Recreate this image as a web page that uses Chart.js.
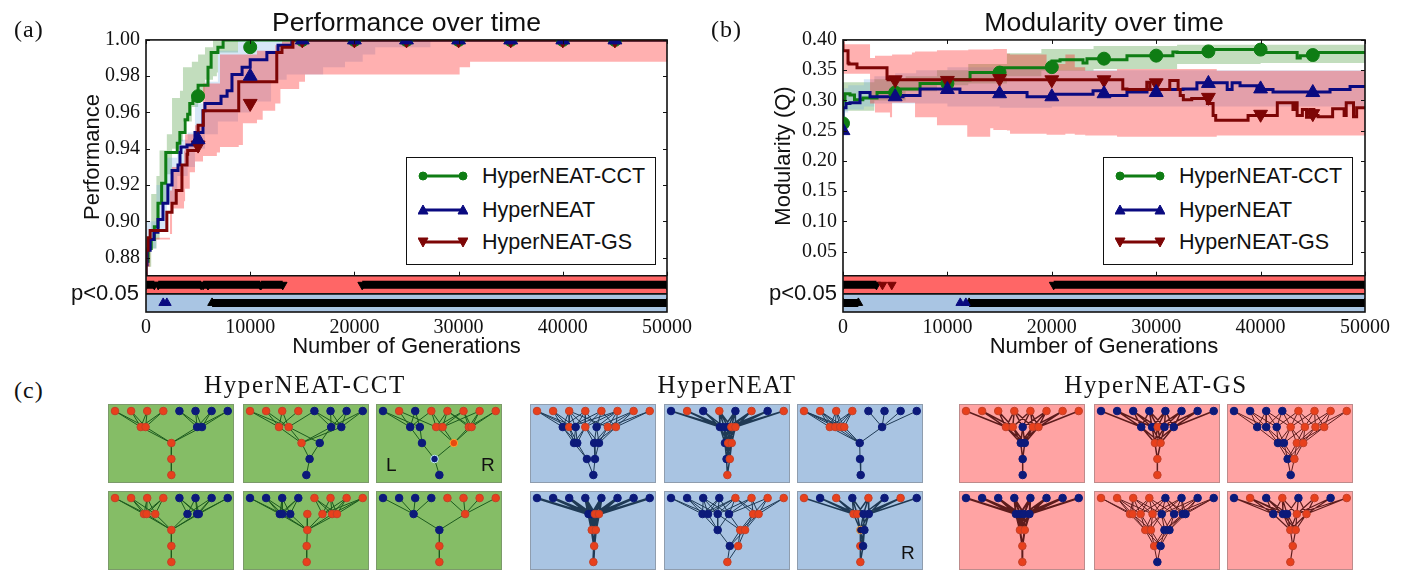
<!DOCTYPE html>
<html>
<head>
<meta charset="utf-8">
<title>HyperNEAT performance and modularity</title>
<script src="https://cdn.jsdelivr.net/npm/chart.js@4"></script>
<style>
  html, body { margin: 0; background: #fff; width: 1408px; height: 581px; overflow: hidden; }
  canvas { position: absolute; }
  .lbl { position: absolute; white-space: nowrap; color: #111; }
  .serif { font-family: "Liberation Serif", serif; }
  .sans { font-family: "Liberation Sans", sans-serif; }
  .legend { position: absolute; box-sizing: border-box; width: 250px; height: 108px; background: #fff; border: 1.5px solid #111; }
  .legend svg { position: absolute; left: 11px; }
  .legend span { position: absolute; left: 75px; font: 21.5px "Liberation Sans", sans-serif; color: #111; white-space: nowrap; }
</style>
</head>
<body>
<script>
// ── PANEL (a) DATA ─────────────────────────────
const xTicks = [0, 10000, 20000, 30000, 40000, 50000];
const markerGens = [5000, 10000, 15000, 20000, 25000, 30000, 35000, 40000, 45000];

const perfTicks = [0.88, 0.90, 0.92, 0.94, 0.96, 0.98, 1.00];

const perfCctGens = [0, 200, 500, 800, 1150, 1500, 1900, 2500, 3000, 3250, 3750, 4000, 4200, 4500, 5000, 5950, 6250, 6900, 7400, 11150, 50000];
const perfCct = [0.870, 0.878, 0.885, 0.890, 0.897, 0.910, 0.921, 0.938, 0.938, 0.943, 0.949, 0.956, 0.959, 0.965, 0.969, 0.975, 0.985, 0.993, 0.996, 1, 1];
const perfCctMarks = [0.969, 0.996, 1, 1, 1, 1, 1, 1, 1];

const perfHnGens = [0, 100, 400, 770, 1150, 1630, 2100, 2500, 3070, 3260, 3360, 3940, 4700, 5470, 5660, 7200, 7780, 8250, 9220, 10000, 11600, 12670, 14000, 14700, 50000];
const perfHn = [0.870, 0.876, 0.884, 0.890, 0.894, 0.901, 0.910, 0.920, 0.928, 0.931, 0.938, 0.941, 0.942, 0.949, 0.961, 0.965, 0.969, 0.972, 0.981, 0.985, 0.989, 0.993, 0.997, 1, 1];
const perfHnMarks = [0.945, 0.980, 1, 1, 1, 1, 1, 1, 1];

const perfGsGens = [0, 200, 400, 2000, 2500, 2900, 3450, 3940, 4000, 5000, 5500, 8900, 10250, 12550, 13050, 14100, 14500, 50000];
const perfGs = [0.870, 0.884, 0.891, 0.895, 0.905, 0.910, 0.917, 0.931, 0.937, 0.939, 0.953, 0.961, 0.977, 0.977, 0.993, 0.996, 1, 1];
const perfGsMarks = [0.942, 0.965, 1, 1, 1, 1, 1, 1, 1];

const perfCctBandGens = [0, 500, 1000, 1300, 2000, 2500, 3260, 3550, 4400, 5000, 5470, 5660, 6430, 6800, 6900, 8830, 11200, 50000];
const perfCctHigh = [0.87, 0.89, 0.915, 0.925, 0.939, 0.948, 0.968, 0.972, 0.985, 0.988, 0.992, 0.992, 0.996, 1, 1, 1, 1, 1];
const perfCctLow = [0.87, 0.875, 0.885, 0.89, 0.91, 0.926, 0.94, 0.944, 0.955, 0.963, 0.966, 0.969, 0.978, 0.98, 0.982, 0.993, 1, 1];

const perfHnBandGens = [0, 1000, 2000, 3000, 4000, 4700, 5660, 6900, 8830, 10000, 12000, 13500, 17000, 19100, 20800, 22000, 27300, 29400, 50000];
const perfHnHigh = [0.87, 0.90, 0.92, 0.935, 0.945, 0.949, 0.965, 0.977, 0.994, 1, 1, 1, 1, 1, 1, 1, 1, 1, 1];
const perfHnLow = [0.87, 0.885, 0.895, 0.91, 0.925, 0.93, 0.94, 0.948, 0.955, 0.96, 0.966, 0.978, 0.981, 0.985, 0.988, 0.992, 0.996, 1, 1];

const perfGsBandGens = [0, 400, 2300, 2500, 3650, 3750, 4200, 4700, 5470, 6800, 7100, 8900, 9300, 10650, 11200, 12400, 12900, 13050, 14700, 15260, 30100, 31100, 45300, 50000];
const perfGsHigh = [0.87, 0.891, 0.891, 0.917, 0.93, 0.939, 0.948, 0.948, 0.953, 0.976, 0.976, 0.992, 0.992, 0.992, 0.994, 0.994, 0.997, 0.997, 1, 1, 1, 1, 1, 1];
const perfGsLow = [0.87, 0.875, 0.89, 0.893, 0.907, 0.911, 0.918, 0.927, 0.933, 0.936, 0.938, 0.941, 0.942, 0.954, 0.956, 0.961, 0.965, 0.973, 0.973, 0.977, 0.981, 0.985, 0.988, 0.988];

const perfSigGs = [[0, 800], [1170, 5290], [5480, 5950], [5950, 10960], [11040, 13120], [20750, 50000]];
const perfSigHn = [[6340, 50000]];
const perfSigHnSingles = [1650, 2000];

// ── PANEL (b) DATA ─────────────────────────────
const modTicks = [0.05, 0.10, 0.15, 0.20, 0.25, 0.30, 0.35, 0.40];

const modCctGens = [0, 190, 670, 1100, 1900, 3260, 4980, 7380, 9960, 12170, 15040, 16670, 20020, 20790, 22990, 23370, 24900, 27200, 29410, 31600, 32000, 34970, 36100, 39950, 40700, 43500, 43800, 44900, 46650, 50000];
const modCct = [0.262, 0.300, 0.311, 0.309, 0.301, 0.304, 0.313, 0.319, 0.328, 0.334, 0.346, 0.354, 0.354, 0.365, 0.367, 0.362, 0.369, 0.367, 0.374, 0.374, 0.380, 0.379, 0.384, 0.384, 0.379, 0.379, 0.370, 0.374, 0.379, 0.379];
const modMarkerGens = [0, 5000, 10000, 15000, 20000, 25000, 30000, 35000, 40000, 45000];
const modCctMarks = [0.262, 0.313, 0.328, 0.346, 0.355, 0.369, 0.374, 0.381, 0.384, 0.375];

const modHnGens = [0, 290, 670, 1630, 2590, 5750, 7380, 8330, 11200, 11880, 17630, 20020, 23950, 25100, 27200, 29120, 32570, 33900, 35450, 36800, 37270, 38030, 39660, 41190, 46650, 48570, 49900, 50000];
const modHn = [0.250, 0.288, 0.295, 0.296, 0.313, 0.306, 0.308, 0.319, 0.319, 0.313, 0.313, 0.306, 0.310, 0.316, 0.308, 0.314, 0.318, 0.319, 0.329, 0.329, 0.318, 0.329, 0.324, 0.318, 0.314, 0.318, 0.323, 0.323];
const modHnMarks = [0.250, 0.306, 0.318, 0.311, 0.306, 0.311, 0.313, 0.328, 0.319, 0.313];

const modGsGens = [0, 480, 575, 1340, 1440, 4215, 4310, 7090, 26800, 27200, 29100, 29400, 29900, 31300, 31600, 32100, 32300, 32600, 33400, 34900, 35450, 35700, 36600, 38800, 39200, 41600, 41700, 43100, 43300, 43500, 44000, 44400, 44700, 45100, 45500, 46900, 47300, 48000, 48200, 48900, 49200, 49500, 50000];
const modGs = [0.398, 0.382, 0.362, 0.360, 0.354, 0.354, 0.336, 0.334, 0.334, 0.319, 0.318, 0.330, 0.318, 0.318, 0.333, 0.333, 0.318, 0.308, 0.301, 0.303, 0.295, 0.275, 0.267, 0.267, 0.275, 0.275, 0.296, 0.296, 0.285, 0.296, 0.275, 0.285, 0.272, 0.285, 0.275, 0.273, 0.286, 0.286, 0.275, 0.296, 0.273, 0.288, 0.288];
const modGsMarks = [0.398, 0.334, 0.333, 0.336, 0.334, 0.334, 0.329, 0.305, 0.277, 0.278];

const modCctBandGens = [0, 3000, 6000, 9000, 12000, 15700, 19000, 21000, 24000, 32000, 40000, 50000];
const modCctHigh = [0.33, 0.33, 0.335, 0.34, 0.35, 0.36, 0.378, 0.385, 0.385, 0.39, 0.392, 0.392];
const modCctLow = [0.283, 0.283, 0.30, 0.315, 0.325, 0.328, 0.34, 0.349, 0.349, 0.352, 0.36, 0.362];

const modHnBandGens = [0, 500, 2000, 3000, 5000, 7000, 10000, 15000, 20000, 30000, 40000, 50000];
const modHnHigh = [0.27, 0.32, 0.325, 0.335, 0.34, 0.345, 0.35, 0.355, 0.352, 0.35, 0.35, 0.35];
const modHnLow = [0.25, 0.28, 0.285, 0.29, 0.295, 0.295, 0.295, 0.29, 0.288, 0.29, 0.29, 0.29];

const modGsBandGens = [0, 2590, 3065, 4500, 4700, 6600, 6900, 9000, 11900, 12000, 14100, 14400, 15700, 16000, 19500, 21300, 22200, 23200, 26250, 35800, 50000];
const modGsHigh = [0.398, 0.393, 0.37, 0.374, 0.374, 0.376, 0.379, 0.381, 0.383, 0.383, 0.384, 0.384, 0.385, 0.377, 0.376, 0.36, 0.376, 0.355, 0.349, 0.352, 0.349];
const modGsLow = [0.36, 0.344, 0.295, 0.28, 0.272, 0.296, 0.296, 0.272, 0.259, 0.24, 0.24, 0.254, 0.251, 0.25, 0.245, 0.243, 0.245, 0.243, 0.242, 0.24, 0.242];

const modSigGs = [[0, 3200], [20180, 50000]];
const modSigGsSingles = [3780, 4670];
const modSigHn = [[0, 1470], [12080, 50000]];
const modSigHnSingles = [11230, 11770];

const seriesNames = ['HyperNEAT-CCT', 'HyperNEAT', 'HyperNEAT-GS'];

// ── PANEL (c) DATA ─────────────────────────────
// each network: input colours, then a layer of [x, colour, parents in the layer above]
const cctA1 = ['rrrrbbbb', [[1.6, 'r', '0123'], [1.9, 'r', '0123'], [5.1, 'b', '4567'], [5.4, 'b', '4567']], [[3.5, 'r', '0123']], [[3.5, 'r', '0']], [[3.5, 'r', '0']]];
const cctA2 = ['rrrrbbbb', [[1.8, 'r', '0123'], [2.4, 'r', '0124'], [5.04, 'b', '4567'], [5.67, 'b', '4567']], [[3.2, 'r', '0123'], [4.33, 'b', '12']], [[3.7, 'b', '01']], [[3.5, 'b', '0']]];
const cctA3 = ['brbrrrrr', [[1.69, 'b', '0123'], [2.29, 'b', '02'], [3.3, 'r', '1345'], [3.7, 'r', '3456'], [5.33, 'r', '4567'], [5.5, 'r', '4567']], [[2.42, 'b', '01'], [4.4, 'o', '2345']], [[3.2, 'c', '01']], [[3.5, 'b', '0']]];
const cctB1 = ['rrrrbbbb', [[1.8, 'r', '0123'], [1.96, 'r', '0123'], [2.5, 'r', '123'], [4.5, 'b', '456'], [5.1, 'b', '4567'], [5.2, 'b', '4567']], [[3.5, 'r', '012345']], [[3.5, 'r', '0']], [[3.5, 'r', '0']]];
const cctB2 = ['bbbbrrrr', [[1.85, 'b', '0123'], [2, 'b', '0123'], [2.5, 'b', '123'], [3.56, 'r', ''], [4.5, 'r', '4567'], [5.1, 'r', '4567'], [5.4, 'r', '4567']], [[3.56, 'r', '0123456']], [[3.52, 'r', '0']], [[3.52, 'r', '0']]];
const cctB3 = ['bbbbrrrr', [[1.9, 'b', '0123'], [5.1, 'r', '4567']], [[3.5, 'b', '01']], [[3.5, 'r', '0']], [[3.5, 'r', '0']]];

const hnA1 = ['rrrrrrrr', [[1.6, 'b', '0123'], [2, 'r', '01245'], [2.4, 'b', '0123'], [3, 'r', '2345'], [3.7, 'b', '3456'], [4.4, 'r', '2567'], [4.9, 'r', '4567']], [[2.3, 'b', '0123'], [2.5, 'b', '0123'], [3.55, 'b', '3456'], [3.85, 'b', '3456']], [[3.1, 'b', '01'], [3.6, 'b', '23']], [[3.5, 'b', '01']]];
const hnA2 = ['brbrbrbr', [[3.04, 'b', '0123'], [3.3, 'b', '01234'], [3.55, 'b', '3456'], [3.75, 'r', '34567'], [4, 'r', '4567']], [[3.35, 'b', '012'], [3.55, 'r', '01234'], [3.77, 'r', '234']], [[3.45, 'b', '012'], [3.65, 'r', '012']], [[3.5, 'r', '01']]];
const hnA3 = ['rrrrbbbb', [[1.6, 'r', '0123'], [1.94, 'r', '0123'], [2.25, 'r', '0123'], [2.5, 'r', '0123'], [4.85, 'b', '4567']], [[3.46, 'b', '01234']], [[3.48, 'b', '0']], [[3.52, 'b', '0']]];
const hnB1 = ['bbbbbbbb', [[3.2, 'b', '0123'], [3.4, 'b', '1234'], [3.6, 'r', '3456'], [3.85, 'r', '4567']], [[3.4, 'r', '0123'], [3.65, 'r', '0123']], [[3.55, 'r', '01']], [[3.5, 'r', '0']]];
const hnB2 = ['bbbbrrrr', [[1.96, 'b', '01234'], [2.3, 'b', '01234'], [2.9, 'b', '12345'], [3.6, 'b', '23456'], [5.1, 'r', '4567'], [5.44, 'r', '4567']], [[2.9, 'b', '0123'], [4.3, 'r', '2345'], [4.6, 'r', '45']], [[3.65, 'b', '012'], [4.17, 'r', '12']], [[3.5, 'r', '01']]];
const hnB3 = ['rbrbrbrb', [[3.08, 'r', '0123'], [3.3, 'r', '1234'], [3.7, 'b', '3456'], [4.02, 'b', '4567']], [[3.5, 'g', '0123'], [3.75, 'b', '23']], [[3.5, 'r', '01'], [3.67, 'b', '01']], [[3.5, 'r', '01']]];

const gsA1 = ['rrrrrrrr', [[2.48, 'r', '0123'], [2.9, 'r', '1234'], [3.52, 'b', '345'], [4.15, 'r', '3456'], [4.5, 'r', '4567']], [[3.4, 'b', '01234'], [3.65, 'b', '01234']], [[3.52, 'b', '01']], [[3.52, 'b', '0']]];
const gsA2 = ['bbbbbbbb', [[2.5, 'b', '0123'], [3.17, 'b', '1234'], [3.52, 'r', '2345'], [3.94, 'b', '3456'], [4.52, 'b', '4567']], [[3.35, 'r', '01234'], [3.7, 'r', '01234']], [[3.5, 'r', '01']], [[3.5, 'r', '0']]];
const gsA3 = ['bbbbrrrr', [[1.44, 'b', '012'], [2, 'b', '0123'], [2.65, 'b', '1234'], [3.52, 'r', '2345'], [4.4, 'r', '3456'], [5.06, 'r', '4567'], [5.6, 'r', '567']], [[2.73, 'b', '0123'], [3.1, 'b', '1234'], [3.9, 'r', '3456'], [4.3, 'r', '3456']], [[3.33, 'b', '0123'], [3.75, 'r', '0123']], [[3.52, 'b', '01']]];
const gsB1 = ['bbbbbbbb', [[3.1, 'b', '0123'], [3.35, 'b', '1234'], [3.6, 'b', '3456'], [3.94, 'b', '4567']], [[3.35, 'r', '0123'], [3.65, 'r', '0123']], [[3.5, 'r', '01']], [[3.5, 'r', '0']]];
const gsB2 = ['rrrrbbbb', [[1.8, 'r', '012'], [1.96, 'r', '0123'], [2.46, 'r', '1234'], [3.2, 'r', '12345'], [3.77, 'b', '23456'], [4.54, 'b', '34567'], [5.08, 'b', '4567'], [5.25, 'b', '4567']], [[2.75, 'r', '01234'], [3.1, 'r', '1234'], [3.94, 'b', '34567'], [4.25, 'b', '4567']], [[3.3, 'r', '0123'], [3.7, 'b', '0123']], [[3.5, 'b', '01']]];
const gsB3 = ['brbrbrbr', [[2.44, 'b', '0123'], [3.04, 'b', '0123'], [3.3, 'b', '1234'], [3.9, 'r', '34567'], [4.5, 'r', '4567']], [[3.5, 'r', '01234'], [3.83, 'r', '1234']], [[3.65, 'r', '01']], [[3.5, 'r', '0']]];

// ── STYLES ─────────────────────────────────────
const GREEN = '#0f7d14', NAVY = '#0a0a80', MAROON = '#7d0505';
const GREEN_BAND = 'rgba(30,130,10,0.27)', BLUE_BAND = 'rgba(110,170,225,0.28)', RED_BAND = 'rgba(255,0,0,0.31)';
const STRIP_RED = '#ff6666', STRIP_BLUE = '#a9c5e3';
const SERIF = 'Liberation Serif', SANS = 'Liberation Sans';

function pts(xs, ys) { return xs.map((x, i) => ({ x, y: ys[i] })); }

function stepLine(xs, ys, color) {
  return { data: pts(xs, ys), showLine: true, stepped: 'after', borderColor: color, borderWidth: 3, pointRadius: 0, fill: false, clip: 0 };
}

function markers(xs, ys, color, style, rot) {
  return { data: pts(xs, ys), showLine: false, pointStyle: style, rotation: rot || 0, pointRadius: style === 'circle' ? 6.5 : 8,
    backgroundColor: color, borderColor: color, pointBackgroundColor: color, pointBorderColor: color, borderWidth: 1, clip: 0 };
}

// datasets go in paint order and get reversed at the end, so '-1' points at the next entry
function band(xs, high, low, color) {
  return [
    { data: pts(xs, high), showLine: true, stepped: 'after', borderWidth: 0, pointRadius: 0, fill: '-1', backgroundColor: color, clip: 0 },
    { data: pts(xs, low), showLine: true, stepped: 'after', borderWidth: 0, pointRadius: 0, fill: false, clip: 0 }
  ];
}

function strip(top, bottom, color) {
  return { data: [{ x: 0, y: top }, { x: 50000, y: top }], showLine: true, borderWidth: 0, pointRadius: 0, fill: { value: bottom }, backgroundColor: color, clip: 0 };
}

function sigBar(ranges, y) {
  const data = [];
  ranges.forEach(r => { data.push({ x: r[0], y }, { x: r[1], y }, { x: r[1], y: null }); });
  return { data, showLine: true, borderColor: '#000', borderWidth: 8, borderCapStyle: 'butt', pointRadius: 0, fill: false, clip: 0 };
}

function sigEnds(ranges, y, style, rot) {
  const xs = [];
  ranges.forEach(r => xs.push(r[0], r[1]));
  const set = markers(xs, xs.map(() => y), '#000', style, rot);
  set.pointRadius = 5;
  return set;
}

const framePlugin = {
  id: 'frame',
  afterDatasetsDraw(chart, args, opts) {
    const { ctx, chartArea: a, scales: { x, y } } = chart;
    const split = y.getPixelForValue(opts.split), mid = y.getPixelForValue(opts.mid);
    ctx.save();
    ctx.strokeStyle = '#111';
    ctx.lineWidth = 1;
    opts.yTicks.forEach(v => {
      const py = Math.round(y.getPixelForValue(v)) + 0.5;
      ctx.beginPath();
      ctx.moveTo(a.left, py); ctx.lineTo(a.left + 4, py);
      ctx.moveTo(a.right, py); ctx.lineTo(a.right - 4, py);
      ctx.stroke();
    });
    xTicks.forEach(v => {
      const px = Math.round(x.getPixelForValue(v)) + 0.5;
      ctx.beginPath();
      ctx.moveTo(px, a.top); ctx.lineTo(px, a.top + 4);
      ctx.moveTo(px, split); ctx.lineTo(px, split - 4);
      ctx.stroke();
    });
    ctx.lineWidth = 1.6;
    ctx.strokeRect(a.left, a.top, a.right - a.left, a.bottom - a.top);
    ctx.beginPath();
    ctx.moveTo(a.left, split); ctx.lineTo(a.right, split);
    ctx.moveTo(a.left, mid); ctx.lineTo(a.right, mid);
    ctx.stroke();
    ctx.restore();
  }
};

function makeCanvas(left, top, w, h) {
  const c = document.createElement('canvas');
  c.width = w; c.height = h;
  c.style.left = left + 'px';
  c.style.top = top + 'px';
  c.style.width = w + 'px';
  c.style.height = h + 'px';
  document.body.appendChild(c);
  return c;
}

function addLabel(text, cls, css) {
  const d = document.createElement('div');
  d.className = 'lbl ' + cls;
  d.textContent = text;
  Object.assign(d.style, css);
  document.body.appendChild(d);
}

// ── LINE PANELS ────────────────────────────────
function renderPanel(cfg) {
  const canvas = makeCanvas(cfg.left, 0, 704, 365);
  new Chart(canvas, {
    type: 'scatter',
    data: { datasets: cfg.datasets.slice().reverse() },
    plugins: [framePlugin],
    options: {
      responsive: false,
      animation: false,
      layout: { autoPadding: false, padding: { right: cfg.padRight } },
      plugins: {
        legend: { display: false },
        tooltip: { enabled: false },
        title: {
          display: true, text: cfg.title, color: '#111', fullSize: false,
          font: { family: SANS, size: 26.6, weight: 'normal' }, padding: { top: 8, bottom: 0 }
        },
        frame: { split: cfg.split, mid: cfg.mid, yTicks: cfg.yTicks }
      },
      scales: {
        x: {
          type: 'linear', min: 0, max: 50000,
          afterFit: s => { s.height = 53; },
          afterBuildTicks: s => { s.ticks = xTicks.map(v => ({ value: v })); },
          grid: { display: false, drawTicks: false },
          border: { display: false },
          ticks: { color: '#111', padding: 4, maxRotation: 0, autoSkip: false, font: { family: SERIF, size: 20 }, callback: v => String(v) },
          title: { display: true, text: 'Number of Generations', color: '#111', font: { family: SANS, size: 22 }, padding: { top: 0, bottom: 5 } }
        },
        y: {
          type: 'linear', min: cfg.yMin, max: cfg.yMax,
          afterFit: s => { s.width = cfg.axisWidth; },
          afterBuildTicks: s => { s.ticks = cfg.yTicks.map(v => ({ value: v })); },
          grid: { display: false, drawTicks: false },
          border: { display: false },
          ticks: { color: '#111', padding: 6, autoSkip: false, font: { family: SERIF, size: 20 }, callback: v => v.toFixed(2) }
        }
      }
    }
  });
}

function renderLegend(left, top) {
  const box = document.createElement('div');
  box.className = 'legend';
  box.style.left = left + 'px';
  box.style.top = top + 'px';
  const colors = [GREEN, NAVY, MAROON];
  const glyphs = [
    x => `<circle cx="${x}" cy="8" r="4"/>`,
    x => `<path d="M${x} 3 L${x + 5} 12 L${x - 5} 12 Z"/>`,
    x => `<path d="M${x} 13 L${x + 5} 4 L${x - 5} 4 Z"/>`
  ];
  const rowTops = [10, 44, 76];
  seriesNames.forEach((name, i) => {
    const svg = `<svg width="50" height="16" style="top:${rowTops[i]}px" fill="${colors[i]}" stroke="${colors[i]}">` +
      `<line x1="5" y1="8" x2="45" y2="8" stroke-width="3"/>${glyphs[i](5)}${glyphs[i](45)}</svg>`;
    box.insertAdjacentHTML('beforeend', svg + `<span style="top:${rowTops[i] - 4}px">${name}</span>`);
  });
  document.body.appendChild(box);
}

renderPanel({
  left: 0, title: 'Performance over time', yMin: 0.85, yMax: 1, yTicks: perfTicks, split: 0.87, mid: 0.86, axisWidth: 146, padRight: 37,
  datasets: [
    strip(0.87, 0.86, STRIP_RED),
    strip(0.86, 0.85, STRIP_BLUE),
    ...band(perfCctBandGens, perfCctHigh, perfCctLow, GREEN_BAND),
    ...band(perfHnBandGens, perfHnHigh, perfHnLow, BLUE_BAND),
    ...band(perfGsBandGens, perfGsHigh, perfGsLow, RED_BAND),
    sigBar(perfSigGs, 0.865),
    sigEnds(perfSigGs, 0.865, 'triangle', 180),
    sigBar(perfSigHn, 0.855),
    sigEnds(perfSigHn, 0.855, 'triangle', 0),
    Object.assign(markers(perfSigHnSingles, perfSigHnSingles.map(() => 0.855), NAVY, 'triangle', 0), { pointRadius: 5 }),
    stepLine(perfCctGens, perfCct, GREEN),
    stepLine(perfHnGens, perfHn, NAVY),
    stepLine(perfGsGens, perfGs, MAROON),
    markers(markerGens, perfCctMarks, GREEN, 'circle'),
    markers(markerGens, perfGsMarks, MAROON, 'triangle', 180),
    markers(markerGens, perfHnMarks, NAVY, 'triangle', 0)
  ]
});

renderPanel({
  left: 704, title: 'Modularity over time', yMin: -0.05, yMax: 0.4, yTicks: modTicks, split: 0.01, mid: -0.02, axisWidth: 139, padRight: 43,
  datasets: [
    strip(0.01, -0.02, STRIP_RED),
    strip(-0.02, -0.05, STRIP_BLUE),
    ...band(modCctBandGens, modCctHigh, modCctLow, GREEN_BAND),
    ...band(modHnBandGens, modHnHigh, modHnLow, BLUE_BAND),
    ...band(modGsBandGens, modGsHigh, modGsLow, RED_BAND),
    sigBar(modSigGs, -0.005),
    sigEnds(modSigGs, -0.005, 'triangle', 180),
    Object.assign(markers(modSigGsSingles, modSigGsSingles.map(() => -0.005), MAROON, 'triangle', 180), { pointRadius: 5 }),
    sigBar(modSigHn, -0.035),
    sigEnds(modSigHn, -0.035, 'triangle', 0),
    Object.assign(markers(modSigHnSingles, modSigHnSingles.map(() => -0.035), NAVY, 'triangle', 0), { pointRadius: 5 }),
    stepLine(modCctGens, modCct, GREEN),
    stepLine(modHnGens, modHn, NAVY),
    stepLine(modGsGens, modGs, MAROON),
    markers(modMarkerGens, modCctMarks, GREEN, 'circle'),
    markers(modMarkerGens.slice(1), modGsMarks.slice(1), MAROON, 'triangle', 180),
    markers(modMarkerGens, modHnMarks, NAVY, 'triangle', 0)
  ]
});

renderLegend(406, 157);
renderLegend(1103, 157);

addLabel('Performance', 'sans', { left: '92px', top: '157px', fontSize: '22px', transform: 'translate(-50%,-50%) rotate(-90deg)' });
addLabel('Modularity (Q)', 'sans', { left: '783px', top: '156px', fontSize: '22px', transform: 'translate(-50%,-50%) rotate(-90deg)' });
addLabel('p<0.05', 'sans', { left: '71px', top: '280px', fontSize: '22px' });
addLabel('p<0.05', 'sans', { left: '769px', top: '280px', fontSize: '22px' });
addLabel('(a)', 'serif', { left: '14px', top: '16px', fontSize: '24px', letterSpacing: '1px' });
addLabel('(b)', 'serif', { left: '711px', top: '16px', fontSize: '24px', letterSpacing: '1px' });
addLabel('(c)', 'serif', { left: '14px', top: '377px', fontSize: '24px', letterSpacing: '1px' });

// ── NETWORK PANELS ─────────────────────────────
const NODE_FILL = { r: '#e8401c', b: '#0c1a7a', o: '#e84a10', c: '#0c1a7a', g: '#14145a' };
const NODE_EDGE = { r: '#c44028', b: '#0c1a7a', o: '#ffa030', c: '#bfeef5', g: '#f0a040' };

function renderNetwork(net, left, top, bg, edgeColor, width) {
  const canvas = makeCanvas(left, top, 126, 79);
  canvas.style.background = bg;
  canvas.style.outline = '1px solid rgba(110,110,110,0.45)';
  canvas.style.outlineOffset = '-1px';

  const layers = [net[0].split('').map((c, i) => [i, c, ''])].concat(net.slice(1));
  const edges = [], nodes = [], fills = [], strokes = [];
  layers.forEach((layer, depth) => {
    layer.forEach(n => {
      n[2].split('').forEach(p => {
        const parent = layers[depth - 1][+p];
        edges.push({ x: parent[0], y: depth - 1 }, { x: n[0], y: depth }, { x: n[0], y: null });
      });
      nodes.push({ x: n[0], y: depth });
      fills.push(NODE_FILL[n[1]]);
      strokes.push(NODE_EDGE[n[1]]);
    });
  });

  new Chart(canvas, {
    type: 'scatter',
    data: {
      datasets: [
        { data: nodes, pointRadius: 3.8, pointBackgroundColor: fills, pointBorderColor: strokes, pointBorderWidth: 1, showLine: false, clip: false },
        { data: edges, showLine: true, borderColor: edgeColor, borderWidth: width, pointRadius: 0, clip: false }
      ]
    },
    options: {
      responsive: false,
      animation: false,
      layout: { autoPadding: false, padding: 0 },
      plugins: { legend: { display: false }, tooltip: { enabled: false }, title: { display: false } },
      scales: {
        x: { type: 'linear', min: -0.435, max: 7.39, display: false },
        y: { type: 'linear', min: -0.44, max: 4.5, reverse: true, display: false }
      }
    }
  });
}

const rowTops = [404, 491];
const cctLefts = [108, 243, 376];
const hnLefts = [530, 664, 797];
const gsLefts = [959, 1094, 1227];

[[cctA1, 0, 0, 1], [cctA2, 1, 0, 1], [cctA3, 2, 0, 1], [cctB1, 0, 1, 1], [cctB2, 1, 1, 1], [cctB3, 2, 1, 1]].forEach(p =>
  renderNetwork(p[0], cctLefts[p[1]], rowTops[p[2]], '#85bd66', '#1c5a1e', p[3]));
[[hnA1, 0, 0, 1], [hnA2, 1, 0, 1.5], [hnA3, 2, 0, 1], [hnB1, 0, 1, 2.4], [hnB2, 1, 1, 1], [hnB3, 2, 1, 1.5]].forEach(p =>
  renderNetwork(p[0], hnLefts[p[1]], rowTops[p[2]], '#a9c4e2', '#1f3a55', p[3]));
[[gsA1, 0, 0, 1.5], [gsA2, 1, 0, 1.5], [gsA3, 2, 0, 1], [gsB1, 0, 1, 2], [gsB2, 1, 1, 1], [gsB3, 2, 1, 1.2]].forEach(p =>
  renderNetwork(p[0], gsLefts[p[1]], rowTops[p[2]], '#ffa3a3', '#5d1c1c', p[3]));

addLabel('HyperNEAT-CCT', 'serif', { left: '305px', top: '371px', fontSize: '25px', letterSpacing: '1.6px', transform: 'translateX(-50%)' });
addLabel('HyperNEAT', 'serif', { left: '727px', top: '371px', fontSize: '25px', letterSpacing: '1.4px', transform: 'translateX(-50%)' });
addLabel('HyperNEAT-GS', 'serif', { left: '1156px', top: '371px', fontSize: '25px', letterSpacing: '1.6px', transform: 'translateX(-50%)' });
addLabel('L', 'sans', { left: '386px', top: '454px', fontSize: '19px' });
addLabel('R', 'sans', { left: '481px', top: '454px', fontSize: '19px' });
addLabel('R', 'sans', { left: '901px', top: '542px', fontSize: '19px' });
</script>
</body>
</html>
